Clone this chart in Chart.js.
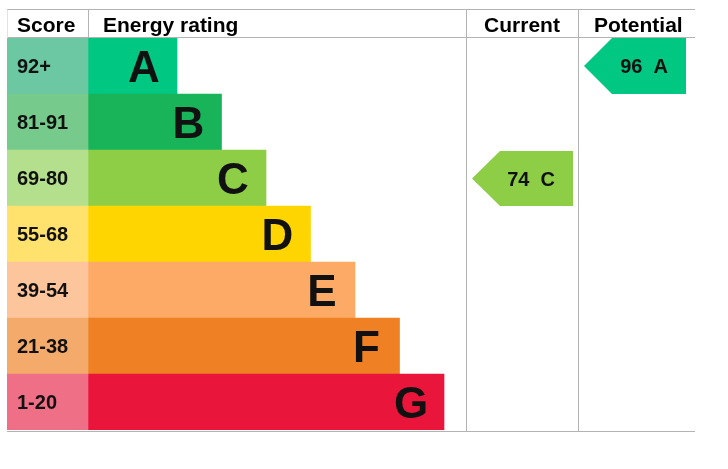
<!DOCTYPE html>
<html>
<head>
<meta charset="utf-8">
<script src="https://cdn.jsdelivr.net/npm/chart.js@4/dist/chart.umd.min.js"></script>
<style>
    body { margin: 0; background: #fff; }
</style>
</head>
<body>
<canvas id="epcChart" width="728" height="469"></canvas>
<script>
const bands = ['A', 'B', 'C', 'D', 'E', 'F', 'G']
const scoreLabels = ['92+', '81-91', '69-80', '55-68', '39-54', '21-38', '1-20']
const scoreMins = [92, 81, 69, 55, 39, 21, 1]
const barLengths = [2, 3, 4, 5, 6, 7, 8]
const bandColors = ['#00c781', '#19b459', '#8dce46', '#ffd500', '#fcaa65', '#ef8023', '#e9153b']
const scoreColors = ['#6cc7a3', '#76ca8c', '#b4df8c', '#ffe26e', '#fdc59b', '#f4aa6b', '#ef6f87']
const currentRating = 74
const potentialRating = 96

const FONT = 'Arial, "Liberation Sans", sans-serif'
const SCORE_MIN = -1.82     // score column sits left of the bars
const LINE = '#b3b3b3'

function bandOf(rating) {
    return scoreMins.findIndex(m => rating >= m)
}

// draws the pointer shape used in the Current / Potential columns
function drawArrow(ctx, left, right, top, bottom, color, text) {
    const mid = (top + bottom) / 2
    const tip = 28
    ctx.fillStyle = color
    ctx.beginPath()
    ctx.moveTo(left, mid)
    ctx.lineTo(left + tip, top)
    ctx.lineTo(right, top)
    ctx.lineTo(right, bottom)
    ctx.lineTo(left + tip, bottom)
    ctx.closePath()
    ctx.fill()

    ctx.fillStyle = '#111'
    ctx.font = 'bold 20px ' + FONT
    ctx.textAlign = 'right'
    ctx.textBaseline = 'alphabetic'
    ctx.fillText(text, right - 18, mid + 7)
}

const epcPlugin = {
    id: 'epcTable',
    afterDatasetsDraw(chart) {
        const ctx = chart.ctx
        const area = chart.chartArea
        const ys = chart.scales.y
        const xs = chart.scales.x
        const rowH = ys.getPixelForValue(1) - ys.getPixelForValue(0)
        const headTop = 9.5
        const scoreRight = Math.round(xs.getPixelForValue(0))
        const colCurrent = area.left + 459
        const colPotential = area.left + 571

        ctx.save()

        // band letters on the bars
        ctx.fillStyle = '#111'
        ctx.font = 'bold 44px ' + FONT
        ctx.textAlign = 'center'
        ctx.textBaseline = 'alphabetic'
        chart.getDatasetMeta(1).data.forEach((bar, i) => {
            ctx.fillText(bands[i], bar.x - 33, bar.y + 16)
        })

        // score ranges
        ctx.font = 'bold 20px ' + FONT
        ctx.textAlign = 'left'
        scoreLabels.forEach((lbl, i) => {
            ctx.fillText(lbl, area.left + 10, ys.getPixelForValue(i) + 7)
        })

        // table lines
        ctx.strokeStyle = LINE
        ctx.lineWidth = 1
        ctx.beginPath()
        ctx.moveTo(area.left, headTop)
        ctx.lineTo(area.right, headTop)
        ctx.moveTo(area.left, area.top - 0.5)
        ctx.lineTo(area.right, area.top - 0.5)
        ctx.moveTo(area.left, area.bottom + 1.5)
        ctx.lineTo(area.right, area.bottom + 1.5)
        ctx.moveTo(scoreRight + 0.5, headTop)
        ctx.lineTo(scoreRight + 0.5, area.top)
        ctx.moveTo(colCurrent + 0.5, headTop)
        ctx.lineTo(colCurrent + 0.5, area.bottom + 1.5)
        ctx.moveTo(colPotential + 0.5, headTop)
        ctx.lineTo(colPotential + 0.5, area.bottom + 1.5)
        ctx.stroke()
        ctx.strokeStyle = '#e2e2e2'
        ctx.beginPath()
        ctx.moveTo(area.left + 0.5, headTop)
        ctx.lineTo(area.left + 0.5, area.top)
        ctx.stroke()

        // headers
        ctx.fillStyle = '#000'
        ctx.font = 'bold 21px ' + FONT
        ctx.textAlign = 'left'
        ctx.fillText('Score', area.left + 10, 32)
        ctx.fillText('Energy rating', scoreRight + 15, 32)
        ctx.textAlign = 'center'
        ctx.fillText('Current', (colCurrent + colPotential) / 2, 32)
        ctx.textAlign = 'left'
        ctx.fillText('Potential', colPotential + 16, 32)

        // current and potential pointers
        const ci = bandOf(currentRating)
        const cy = ys.getPixelForValue(ci)
        drawArrow(ctx, colCurrent + 6, colPotential - 5, cy - rowH / 2 + 1, cy + rowH / 2,
            bandColors[ci], currentRating + '  ' + bands[ci])

        const pi = bandOf(potentialRating)
        const py = ys.getPixelForValue(pi)
        drawArrow(ctx, colPotential + 6, area.right - 9, py - rowH / 2, py + rowH / 2,
            bandColors[pi], potentialRating + '  ' + bands[pi])

        ctx.restore()
    }
}

const ctx = document.getElementById('epcChart').getContext('2d')
const epcChart = new Chart(ctx, {
    type: 'bar',
    data: {
        labels: bands,
        datasets: [{
            label: 'Score',
            data: bands.map(() => [SCORE_MIN, 0]),
            backgroundColor: scoreColors,
            grouped: false,
            barPercentage: 1,
            categoryPercentage: 1,
            borderWidth: 0
        }, {
            label: 'Energy rating',
            data: barLengths.map(v => [0, v]),
            backgroundColor: bandColors,
            grouped: false,
            barPercentage: 1,
            categoryPercentage: 1,
            borderWidth: 0
        }]
    },
    options: {
        indexAxis: 'y',
        responsive: false,
        animation: false,
        layout: {
            padding: { top: 38, bottom: 39, left: 7, right: 33 }
        },
        scales: {
            x: { display: false, min: SCORE_MIN, max: 13.64 },
            y: { display: false }
        },
        plugins: {
            legend: { display: false },
            tooltip: { enabled: false }
        }
    },
    plugins: [epcPlugin]
})
</script>
</body>
</html>
